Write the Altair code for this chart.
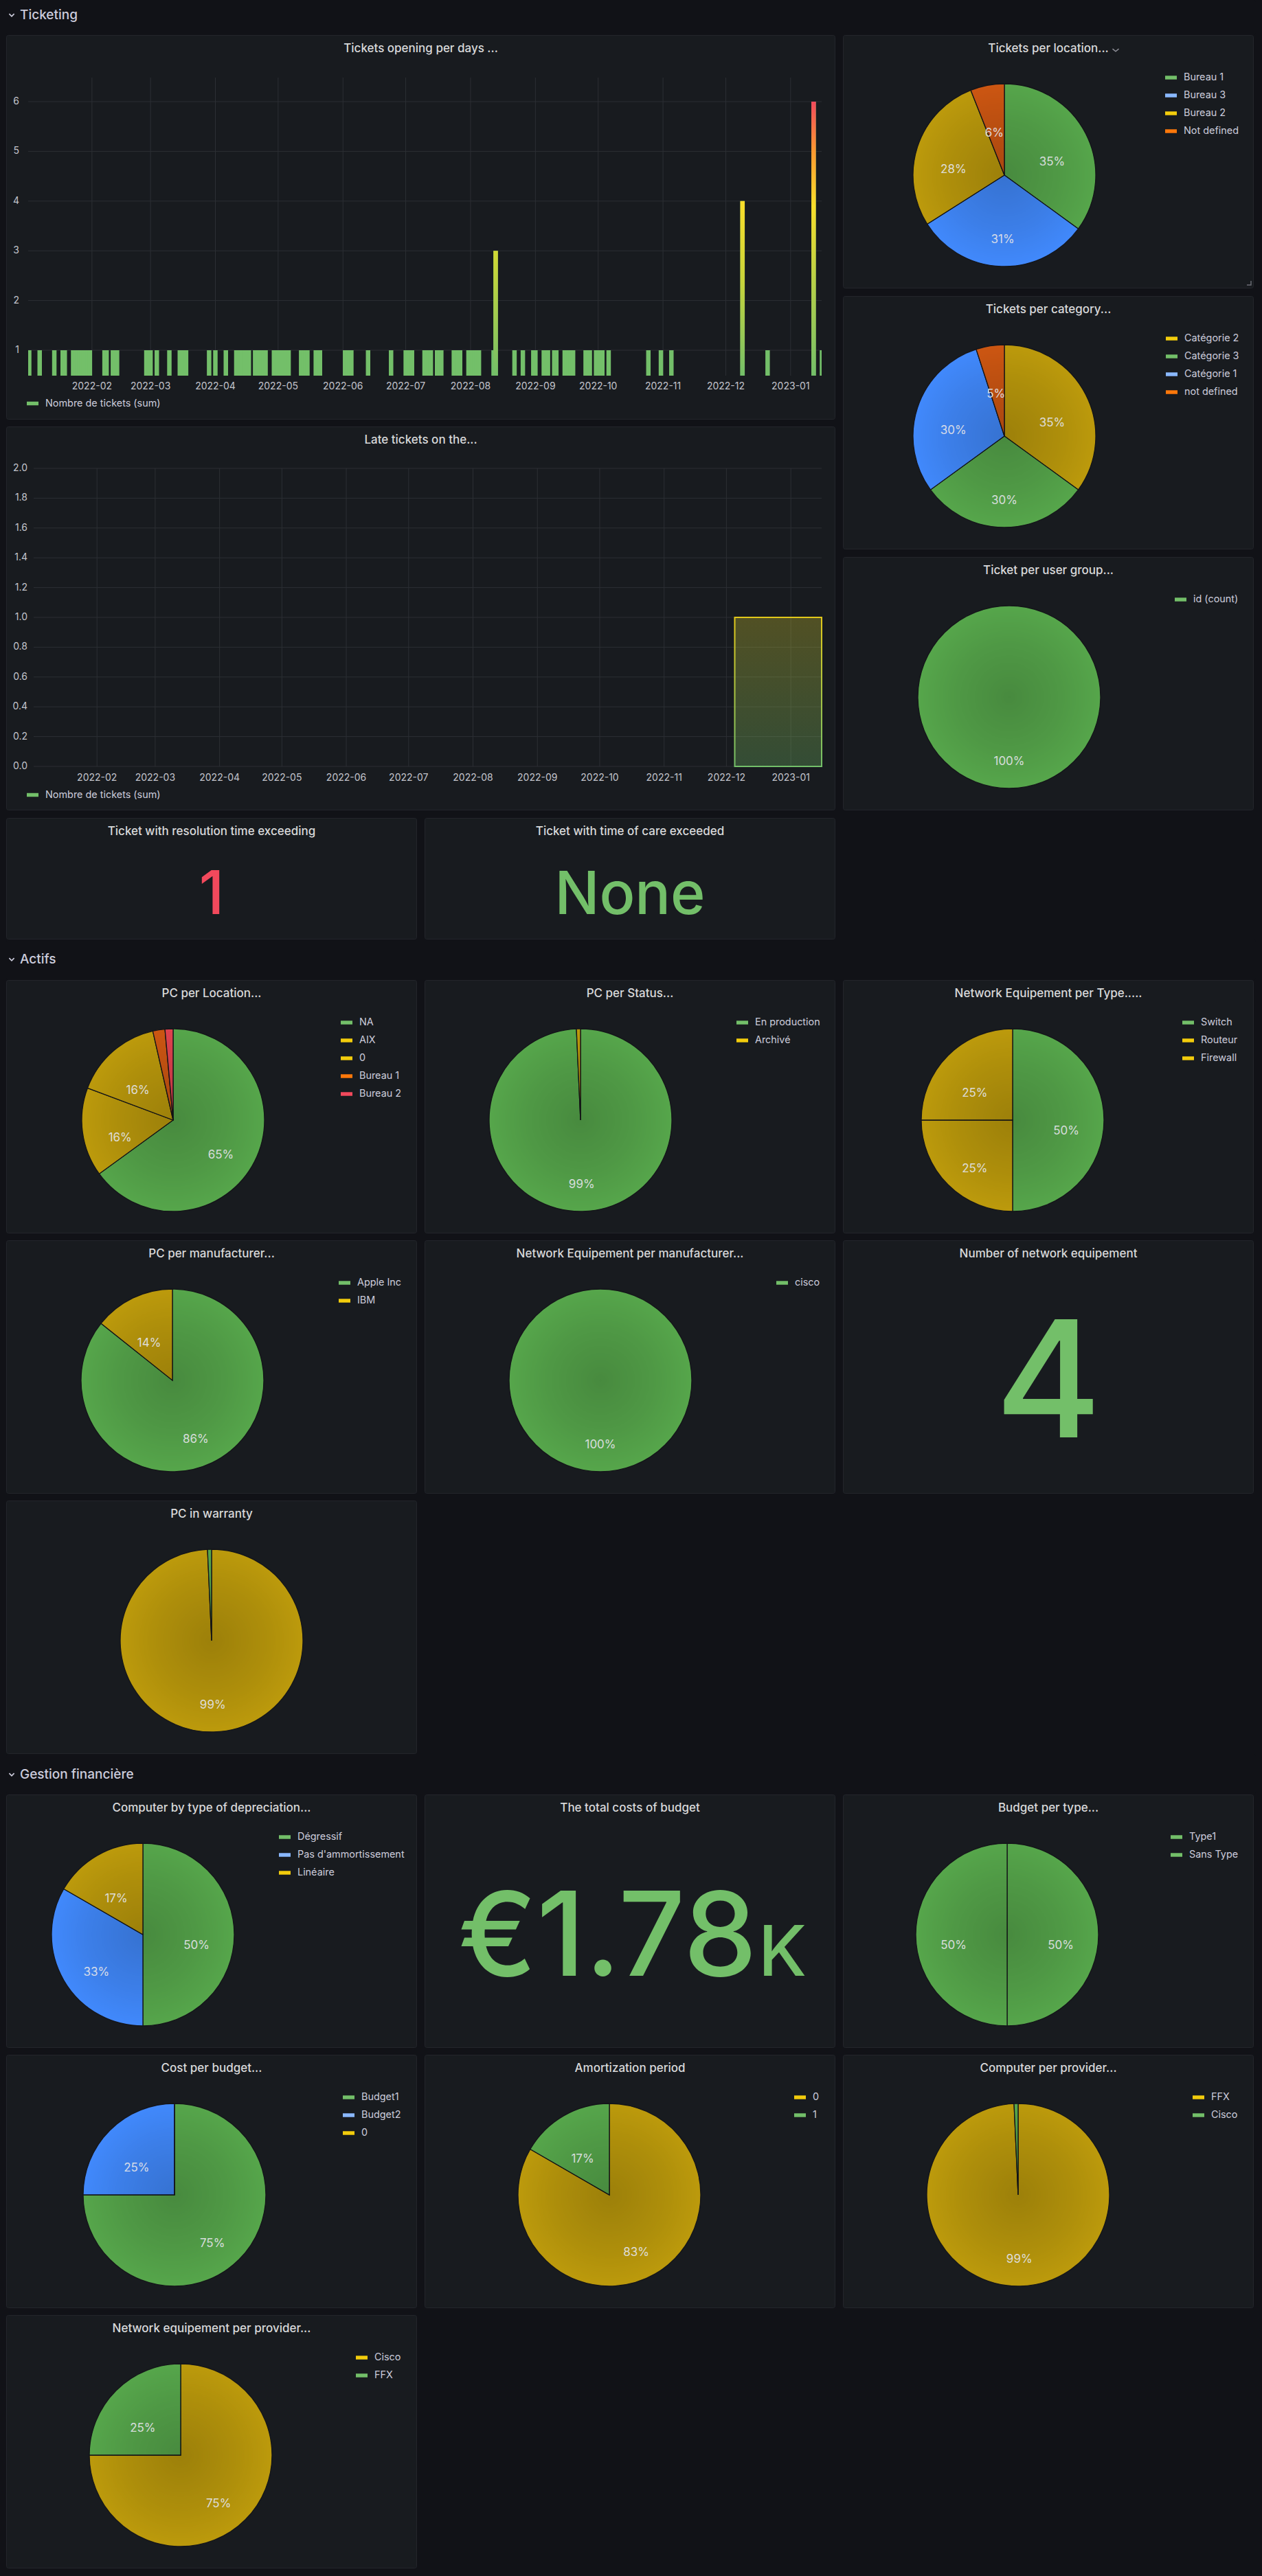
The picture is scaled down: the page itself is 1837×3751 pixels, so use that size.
import math
import altair as alt
import pandas as pd

FONT = "Inter"
BG = "#111217"
PANEL = "#181b1f"
BORDER = "#23252b"
TITLE_TXT = "#d8d9da"
LEG_TXT = "#ccccdc"
AXIS_TXT = "#c3c4cc"
GRID = "#2c2f34"
MUTED = "#8e8f98"
PIE_TXT = "#e2e3e8"

G, Y, B, O, R = "#73BF69", "#F2CC0C", "#8AB8FF", "#FF780A", "#F2495C"
PAL = {"g": ("#56A64B", G), "y": ("#BC9A0C", Y), "b": ("#4189FC", B),
       "o": ("#CC5612", O), "r": ("#E0424E", R)}

# ---------------- data ----------------
one_ticket_days = [
    "2022-01-02", "2022-01-07", "2022-01-14", "2022-01-18", "2022-01-19",
    "2022-01-23", "2022-01-24", "2022-01-25", "2022-01-26", "2022-01-27",
    "2022-01-28", "2022-01-29", "2022-01-30", "2022-01-31",
    "2022-02-07", "2022-02-08", "2022-02-11", "2022-02-12", "2022-02-13", "2022-02-27",
    "2022-03-01", "2022-03-04", "2022-03-10", "2022-03-15", "2022-03-16", "2022-03-17",
    "2022-03-18", "2022-03-29",
    "2022-04-01", "2022-04-06", "2022-04-11", "2022-04-12", "2022-04-13", "2022-04-14",
    "2022-04-15", "2022-04-17", "2022-04-20", "2022-04-21", "2022-04-22", "2022-04-23",
    "2022-04-24", "2022-04-25", "2022-04-29", "2022-04-30",
    "2022-05-01", "2022-05-02", "2022-05-03", "2022-05-04", "2022-05-05", "2022-05-06",
    "2022-05-12", "2022-05-13", "2022-05-14", "2022-05-15", "2022-05-19", "2022-05-20",
    "2022-05-21",
    "2022-06-02", "2022-06-03", "2022-06-04", "2022-06-05", "2022-06-13", "2022-06-24",
    "2022-07-01", "2022-07-02", "2022-07-03", "2022-07-04", "2022-07-10", "2022-07-11",
    "2022-07-12", "2022-07-13", "2022-07-16", "2022-07-17", "2022-07-18", "2022-07-24",
    "2022-07-25", "2022-07-26", "2022-07-27", "2022-07-31",
    "2022-08-01", "2022-08-02", "2022-08-03", "2022-08-04", "2022-08-05", "2022-08-12",
    "2022-08-22", "2022-08-26", "2022-08-31",
    "2022-09-01", "2022-09-05", "2022-09-06", "2022-09-07", "2022-09-10", "2022-09-11",
    "2022-09-15", "2022-09-16", "2022-09-17", "2022-09-18", "2022-09-19", "2022-09-25",
    "2022-09-26", "2022-09-27", "2022-09-30",
    "2022-10-01", "2022-10-02", "2022-10-03", "2022-10-06", "2022-10-25", "2022-10-31",
    "2022-11-05", "2022-12-21", "2023-01-16",
]
multi_ticket_days = ["2022-08-13", "2022-12-09", "2023-01-12"]
multi_ticket_counts = [3, 4, 6]

month_ticks = ["2022-02-01", "2022-03-01", "2022-04-01", "2022-05-01", "2022-06-01",
               "2022-07-01", "2022-08-01", "2022-09-01", "2022-10-01", "2022-11-01",
               "2022-12-01", "2023-01-01"]
ts_y_ticks = [1, 2, 3, 4, 5, 6]

late_starts = ["2022-12-05"]
late_ends = ["2023-01-20"]
late_counts = [1]
late_y_ticks = [0.0, 0.2, 0.4, 0.6, 0.8, 1.0, 1.2, 1.4, 1.6, 1.8, 2.0]

loc_names = ["Bureau 1", "Bureau 3", "Bureau 2", "Not defined"]
loc_values = [35, 31, 28, 6]
cat_names = ["Catégorie 2", "Catégorie 3", "Catégorie 1", "not defined"]
cat_values = [35, 30, 30, 5]
grp_names = ["id (count)"]
grp_values = [100]

pcloc_names = ["NA", "AIX", "0", "Bureau 1", "Bureau 2"]
pcloc_values = [91, 22, 22, 3, 2]
pcstat_names = ["En production", "Archivé"]
pcstat_values = [139, 1]
nettype_names = ["Switch", "Routeur", "Firewall"]
nettype_values = [2, 1, 1]
pcman_names = ["Apple Inc", "IBM"]
pcman_values = [6, 1]
netman_names = ["cisco"]
netman_values = [4]
warranty_names = ["Hors garantie", "Sous garantie"]
warranty_values = [139, 1]

dep_names = ["Dégressif", "Pas d'ammortissement", "Linéaire"]
dep_values = [3, 2, 1]
btype_names = ["Type1", "Sans Type"]
btype_values = [1, 1]
cost_names = ["Budget1", "Budget2", "0"]
cost_values = [1335, 445, 0]
amort_names = ["0", "1"]
amort_values = [5, 1]
cprov_names = ["FFX", "Cisco"]
cprov_values = [139, 1]
nprov_names = ["Cisco", "FFX"]
nprov_values = [3, 1]

stat_resolution = ["1"]
stat_care = ["None"]
stat_network = [4]
budget_total = [1780]

# ---------------- helpers ----------------
W1, W2, H = 598, 1207, 369
R_PIE, CY, LBL_R, LBL_DY = 133, 204, 78, 16
BAR = "M-1,-0.32L1,-0.32L1,0.32L-1,0.32Z"
CHEV = "M-1,-0.5L0,0.5L1,-0.5"


def dt(s, h=0):
    y, m, d = (int(p) for p in s.split("-"))
    return alt.DateTime(year=y, month=m, date=d, hours=h, utc=True)


X_DOMAIN = [dt("2022-01-01", 12), dt("2023-01-15", 20)]


def legend(lx, ly):
    return alt.Legend(orient="none", legendX=lx, legendY=ly, title=None, direction="vertical",
                      symbolType=BAR, symbolSize=289, symbolStrokeWidth=0, symbolOpacity=1,
                      labelFont=FONT, labelFontSize=14.4, labelColor=LEG_TXT, labelOffset=10,
                      rowPadding=11, padding=0, offset=0, labelLimit=500)


def one():
    return alt.Chart(pd.DataFrame({"k": [0]}))


def border(w, h):
    return one().mark_rect(fill=PANEL, fillOpacity=0, stroke=BORDER, strokeWidth=1,
                           cornerRadius=3).encode(
        x=alt.value(0.5), x2=alt.value(w - 0.5), y=alt.value(0.5), y2=alt.value(h - 0.5))


def title_layer(title, w, y=20):
    return alt.Chart(pd.DataFrame({"t": [title]})).mark_text(
        font=FONT, fontSize=17, fontWeight=500, color=TITLE_TXT, align="center", baseline="middle"
    ).encode(text="t:N", x=alt.value(w / 2), y=alt.value(y))


def lin_grad(stops):
    return alt.LinearGradient(gradient="linear",
                              stops=[alt.GradientStop(offset=o, color=c) for o, c in stops],
                              x1=0, x2=0, y1=0, y2=1)


SHADE = alt.RadialGradient(gradient="radial",
                           stops=[alt.GradientStop(offset=0, color="rgba(0,0,0,0.17)"),
                                  alt.GradientStop(offset=0.6, color="rgba(0,0,0,0.08)"),
                                  alt.GradientStop(offset=1, color="rgba(0,0,0,0)")],
                           x1=0.5, y1=0.5, r1=0, x2=0.5, y2=0.5, r2=0.5)


def pie_panel(title, names, values, cols, cx, lx=None, w=W1, h=H, extra=None):
    slice_cols = [PAL[c][0] for c in cols]
    leg_cols = [PAL[c][1] for c in cols]
    df = pd.DataFrame({"name": names, "value": values, "idx": list(range(len(names))),
                       "scol": slice_cols})
    base = alt.Chart(df).transform_joinaggregate(total="sum(value)").transform_calculate(
        pct="datum.value / datum.total"
    ).transform_calculate(label="datum.pct >= 0.04 ? format(datum.pct, '.0%') : ''")
    theta = alt.Theta("value:Q", stack=True)
    order = alt.Order("idx:Q")
    arcs = base.mark_arc(radius=R_PIE, stroke="#141519", strokeWidth=1.3).encode(
        theta=theta, order=order, detail="name:N",
        fill=alt.Fill("scol:N", scale=None),
        x=alt.value(cx), y=alt.value(CY))
    shade = one().mark_arc(radius=R_PIE, theta=2 * math.pi, fill=SHADE).encode(
        x=alt.value(cx), y=alt.value(CY))
    labels = base.mark_text(radius=LBL_R, dy=LBL_DY, font=FONT, fontSize=17, color=PIE_TXT,
                            opacity=0.92, baseline="middle").encode(
        theta=theta, order=order, detail="name:N", text="label:N",
        x=alt.value(cx), y=alt.value(CY))
    layers = [border(w, h), title_layer(title, w), arcs, shade, labels]
    if lx is not None:
        leg_df = pd.DataFrame({"entry": names})
        leg = alt.Chart(leg_df).mark_point(filled=True, opacity=0, size=1).encode(
            color=alt.Color("entry:N", scale=alt.Scale(domain=names, range=leg_cols),
                            legend=legend(lx, 53.5)),
            x=alt.value(cx), y=alt.value(CY))
        layers.append(leg)
    if extra:
        layers += extra
    return alt.layer(*layers).properties(width=w, height=h)


def grid_layers(x0, x1, y0, y1, yvals, yfmt, ylab_x):
    v = alt.Chart(pd.DataFrame({"tick": month_ticks})).mark_rule(color=GRID, strokeWidth=1).encode(
        x=alt.X("tick:T", axis=None), y=alt.value(y0), y2=alt.value(y1))
    hz = alt.Chart(pd.DataFrame({"v": yvals})).mark_rule(color=GRID, strokeWidth=1).encode(
        y=alt.Y("v:Q", axis=None), x=alt.value(x0), x2=alt.value(x1))
    xl = alt.Chart(pd.DataFrame({"tick": month_ticks})).transform_calculate(
        lab="utcFormat(toDate(datum.tick), '%Y-%m')").mark_text(
        font=FONT, fontSize=14, color=AXIS_TXT, align="center", baseline="middle").encode(
        x=alt.X("tick:T", axis=None), y=alt.value(512), text="lab:N")
    yl = alt.Chart(pd.DataFrame({"v": yvals})).transform_calculate(
        lab=f"format(datum.v, '{yfmt}')").mark_text(
        font=FONT, fontSize=14, color=AXIS_TXT, align="right", baseline="middle").encode(
        y=alt.Y("v:Q", axis=None), x=alt.value(ylab_x), text="lab:N")
    return [v, hz, xl, yl]


SERIES = "Nombre de tickets (sum)"
HALF_MS = 92150000  # half bar width (style)

# ---------------- time series: tickets opening ----------------
ts_df = pd.DataFrame({"date": one_ticket_days + multi_ticket_days,
                      "count": [1] * len(one_ticket_days) + multi_ticket_counts})
Y0 = 0.489
xs1 = alt.Scale(type="utc", domain=X_DOMAIN, range=[32, 1187], clamp=True, nice=False)
ys1 = alt.Scale(domain=[Y0, 6.483], range=[496, 62], nice=False, zero=False)
ts_base = alt.Chart(ts_df).transform_calculate(
    start=f"+toDate(datum.date) - {HALF_MS}", end=f"+toDate(datum.date) + {HALF_MS}",
    series=f"'{SERIES}'")
ts_bars = ts_base.mark_bar().encode(
    x=alt.X("start:T", scale=xs1, axis=None), x2="end:T",
    y=alt.Y("count:Q", scale=ys1, axis=None), y2=alt.Y2(datum=Y0),
    color=alt.Color("series:N", scale=alt.Scale(domain=[SERIES], range=[G]), legend=legend(30, 528)))
tall_grads = {
    3: [(0, "#D2D833"), (1, G)],
    4: [(0, "#FADE2A"), (0.45, "#C9D43A"), (1, G)],
    6: [(0, "#F2495C"), (0.18, "#FF9830"), (0.38, "#FADE2A"), (0.65, "#B9D046"), (1, G)],
}
tall_layers = [
    ts_base.transform_filter(f"datum.count == {v}").mark_bar(fill=lin_grad(st)).encode(
        x=alt.X("start:T", axis=None), x2="end:T", y=alt.Y("count:Q", axis=None),
        y2=alt.Y2(datum=Y0))
    for v, st in tall_grads.items()
]
ts_panel = alt.layer(border(W2, 560),
                     *grid_layers(32, 1187, 62, 496, ts_y_ticks, "d", 19), ts_bars, *tall_layers,
                     title_layer("Tickets opening per days ...", W2)).properties(width=W2, height=560)

# ---------------- time series: late tickets ----------------
late_df = pd.DataFrame({"start": late_starts, "end": late_ends, "value": late_counts})
xs2 = alt.Scale(type="utc", domain=X_DOMAIN, range=[40, 1187], clamp=True, nice=False)
ys2 = alt.Scale(domain=[0, 2], range=[495, 61], nice=False, zero=False)
late_bar = alt.Chart(late_df).mark_bar(
    fill=lin_grad([(0, "#D6CC30"), (1, G)]), fillOpacity=0.3,
    stroke=lin_grad([(0, "#E2C81A"), (1, G)]), strokeWidth=2).encode(
    x=alt.X("start:T", scale=xs2, axis=None), x2="end:T",
    y=alt.Y("value:Q", scale=ys2, axis=None), y2=alt.Y2(datum=0))
late_leg = alt.Chart(late_df).transform_calculate(series=f"'{SERIES}'").mark_point(
    filled=True, opacity=0, size=1).encode(
    x=alt.X("start:T", axis=None), y=alt.Y("value:Q", axis=None),
    color=alt.Color("series:N", scale=alt.Scale(domain=[SERIES], range=[G]), legend=legend(30, 528)))
late_panel = alt.layer(border(W2, 559),
                       *grid_layers(40, 1187, 61, 495, late_y_ticks, ".1f", 31), late_bar, late_leg,
                       title_layer("Late tickets on the...", W2)).properties(width=W2, height=559)


# ---------------- stat panels ----------------
def stat_text(values, color, size, x, y, align="center", expr=None):
    ch = alt.Chart(pd.DataFrame({"v": values}))
    ch = ch.transform_calculate(t=expr if expr else "'' + datum.v")
    return ch.mark_text(font=FONT, fontSize=size, fontWeight=500, color=color, align=align,
                        baseline="alphabetic").encode(text="t:N", x=alt.value(x), y=alt.value(y))


stat1 = alt.layer(border(W1, 177), title_layer("Ticket with resolution time exceeding", W1),
                  stat_text(stat_resolution, R, 88, W1 / 2, 140)).properties(width=W1, height=177)
stat2 = alt.layer(border(W1, 177), title_layer("Ticket with time of care exceeded", W1),
                  stat_text(stat_care, G, 86, W1 / 2, 140)).properties(width=W1, height=177)
stat_net = alt.layer(border(W1, H), title_layer("Number of network equipement", W1),
                     stat_text(stat_network, G, 236, W1 / 2, 287)).properties(width=W1, height=H)
stat_budget = alt.layer(
    border(W1, H),
    title_layer("The total costs of budget", W1),
    stat_text(budget_total, G, 170, 484, 264, align="right",
              expr="'€' + format(datum.v / 1000, '.2f')"),
    stat_text(budget_total, G, 102, 486, 264, align="left", expr="'K'"),
).properties(width=W1, height=H)

# ---------------- pies ----------------
loc_extra = [
    one().mark_point(shape="M-1,-0.4L0,0.4L1,-0.4", filled=False, size=81, strokeWidth=1.5,
                     color=MUTED, opacity=1).encode(x=alt.value(397), y=alt.value(22)),
    one().mark_point(shape="M1,-1L1,1L-1,1", filled=False, size=36, strokeWidth=1.4,
                     color="#6e6f78", opacity=1).encode(x=alt.value(591), y=alt.value(361)),
]
p_loc = pie_panel("Tickets per location...", loc_names, loc_values, "gbyo", 235, 469, extra=loc_extra)
p_cat = pie_panel("Tickets per category...", cat_names, cat_values, "ygbo", 235, 470)
p_grp = pie_panel("Ticket per user group...", grp_names, grp_values, "g", 242, 483)

p_pcloc = pie_panel("PC per Location...", pcloc_names, pcloc_values, "gyyor", 243, 487)
p_pcstat = pie_panel("PC per Status...", pcstat_names, pcstat_values, "gy", 227, 454)
p_nettype = pie_panel("Network Equipement per Type.....", nettype_names, nettype_values, "gyy", 247, 494)
p_pcman = pie_panel("PC per manufacturer...", pcman_names, pcman_values, "gy", 242, 484)
p_netman = pie_panel("Network Equipement per manufacturer...", netman_names, netman_values, "g", 256, 512)
p_warranty = pie_panel("PC in warranty", warranty_names, warranty_values, "yg", 299)

p_dep = pie_panel("Computer by type of depreciation...", dep_names, dep_values, "gby", 199, 397)
p_btype = pie_panel("Budget per type...", btype_names, btype_values, "gg", 239, 477)
p_cost = pie_panel("Cost per budget...", cost_names, cost_values, "gby", 245, 490)
p_amort = pie_panel("Amortization period", amort_names, amort_values, "yg", 269, 538)
p_cprov = pie_panel("Computer per provider...", cprov_names, cprov_values, "yg", 255, 509)
p_nprov = pie_panel("Network equipement per provider...", nprov_names, nprov_values, "yg", 254, 509)


# ---------------- layout ----------------
def res(c):
    return c.resolve_scale(theta="independent", color="independent")


def hc(*charts, spacing=11):
    return res(alt.hconcat(*charts, spacing=spacing))


def vc(*charts, spacing=10):
    return res(alt.vconcat(*charts, spacing=spacing))


def header(label, h, ty):
    df = pd.DataFrame({"t": [label]})
    chev = alt.Chart(df).mark_point(shape=CHEV, filled=False, size=52, strokeWidth=1.7,
                                    color=LEG_TXT, opacity=1).encode(
        x=alt.value(8), y=alt.value(ty))
    txt = alt.Chart(df).mark_text(font=FONT, fontSize=19, fontWeight=500, color=LEG_TXT,
                                  align="left", baseline="middle").encode(
        text="t:N", x=alt.value(20), y=alt.value(ty))
    return alt.layer(chev, txt).properties(
        width=1819, height=h, view=alt.ViewBackground(fill=BG, stroke=BG, strokeWidth=0))


ticketing = vc(
    hc(vc(ts_panel, late_panel, spacing=10), vc(p_loc, p_cat, p_grp, spacing=11), spacing=11),
    hc(stat1, stat2),
    spacing=11)
actifs = vc(hc(p_pcloc, p_pcstat, p_nettype), hc(p_pcman, p_netman, stat_net), hc(p_warranty))
gestion = vc(hc(p_dep, stat_budget, p_btype), hc(p_cost, p_amort, p_cprov), hc(p_nprov))

chart = vc(header("Ticketing", 51, 22), ticketing,
           header("Actifs", 59, 29), actifs,
           header("Gestion financière", 59, 30), gestion, spacing=0)

chart = chart.properties(
    padding={"left": 9, "top": 0, "right": 9, "bottom": 11}, background=BG
).configure(font=FONT).configure_view(fill=PANEL, stroke=PANEL, strokeWidth=0, cornerRadius=3)

chart.save("out.html", embed_options={"renderer": "svg", "actions": False})
